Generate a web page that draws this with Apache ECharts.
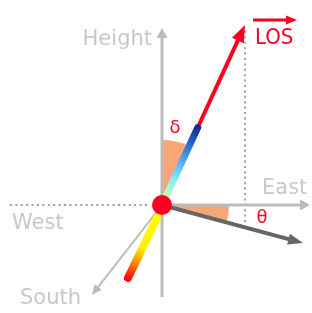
<!DOCTYPE html>
<html>
<head>
<meta charset="utf-8">
<script src="https://cdn.jsdelivr.net/npm/echarts@6/dist/echarts.min.js"></script>
<style>
html, body { margin: 0; padding: 0; background: #fff; }
#main { width: 312px; height: 313px; }
</style>
</head>
<body>
<div id="main"></div>
<script>
// geometry in pixel-like units, origin = target point, y up
var axisVecs = [            // gray reference axes [from, to]
  [[0, -92], [0, 177]],     // Height
  [[0, 0], [148, 0]],       // East
  [[0, 0], [-70, -90]]      // South
];
var dottedLines = [
  [[-152, 0], [-12, 0]],    // West
  [[83, -17], [83, 175]]    // LOS projection
];
var losVec = [83, 180];
var headingVec = [141, -38];
var losBlueSeg = [[3.5, 7.6], [35.7, 77.4]];
var footSeg = [[-5, -13], [-34, -73]];
var deltaR = 65, thetaR = 67;
var labelNames = ['Height', 'East', 'West', 'South'];
var labelPos = [[-10, 165], [100, 16], [-150, -19], [-142, -94]];
var labelAlign = ['right', 'left', 'left', 'left'];
var greekNames = ['δ', 'θ'];
var greekPos = [[13, 77], [100, -13]];
var losLabelPos = [93, 167];
var losBar = [[91, 185], [135, 185]];

var RED = '#fa0022';
var ORANGE = '#f8a677';

function arrow(a, b, color, width, headLen, headW) {
  var dx = b[0] - a[0], dy = b[1] - a[1];
  var len = Math.sqrt(dx * dx + dy * dy);
  var ux = dx / len, uy = dy / len;
  var base = [b[0] - ux * headLen, b[1] - uy * headLen];
  return [
    { type: 'line', shape: { x1: a[0], y1: a[1], x2: base[0] + ux * 2, y2: base[1] + uy * 2 },
      style: { stroke: color, lineWidth: width } },
    { type: 'polygon', shape: { points: [b,
        [base[0] - uy * headW / 2, base[1] + ux * headW / 2],
        [base[0] + uy * headW / 2, base[1] - ux * headW / 2]] },
      style: { fill: color } }
  ];
}

function gradLine(a, b, stops, width) {
  return {
    type: 'line', shape: { x1: a[0], y1: a[1], x2: b[0], y2: b[1] },
    style: {
      lineWidth: width, lineCap: 'round',
      stroke: new echarts.graphic.LinearGradient(a[0], a[1], b[0], b[1], stops, true)
    }
  };
}

function renderAll(params, api) {
  var o = api.coord([0, 0]);
  var kids = [];
  var losAng = Math.atan2(-losVec[1], losVec[0]);
  var headAng = Math.atan2(headingVec[1], headingVec[0]);
  // angle wedges
  kids.push({ type: 'sector', shape: { cx: o[0], cy: o[1], r0: 0, r: api.size([deltaR, 0])[0],
    startAngle: -Math.PI / 2, endAngle: losAng, clockwise: true }, style: { fill: ORANGE } });
  kids.push({ type: 'sector', shape: { cx: o[0], cy: o[1], r0: 0, r: api.size([thetaR, 0])[0],
    startAngle: 0, endAngle: -headAng, clockwise: true }, style: { fill: ORANGE } });
  // dotted guides
  dottedLines.forEach(function (d) {
    var a = api.coord(d[0]), b = api.coord(d[1]);
    kids.push({ type: 'line', shape: { x1: a[0], y1: a[1], x2: b[0], y2: b[1] },
      style: { stroke: '#a0a0a0', lineWidth: 2, lineDash: [2, 3.4] } });
  });
  // gray axes
  axisVecs.forEach(function (v, i) {
    var a = api.coord(v[0]), b = api.coord(v[1]);
    kids = kids.concat(arrow(a, b, '#bcbcbc', i == 2 ? 2 : 3, 10, i == 2 ? 9 : 11));
  });
  // heading vector
  kids = kids.concat(arrow(o, api.coord(headingVec), '#666666', 4, 15, 11));
  // LOS vector
  kids = kids.concat(arrow(o, api.coord(losVec), RED, 4, 17, 13));
  // coloured segments
  kids.push(gradLine(api.coord(losBlueSeg[0]), api.coord(losBlueSeg[1]), [
    { offset: 0, color: '#d8f8a0' }, { offset: 0.25, color: '#80f0f8' },
    { offset: 0.5, color: '#58b0f0' }, { offset: 0.8, color: '#2060c8' },
    { offset: 1, color: '#102c90' }], 7));
  kids.push(gradLine(api.coord(footSeg[0]), api.coord(footSeg[1]), [
    { offset: 0, color: '#ffff00' }, { offset: 0.5, color: '#ffee00' },
    { offset: 0.75, color: '#ff8800' }, { offset: 1, color: '#ff0a10' }], 8));
  // target point
  kids.push({ type: 'circle', shape: { cx: o[0], cy: o[1], r: 10 }, style: { fill: RED } });
  // labels
  labelNames.forEach(function (t, i) {
    var p = api.coord(labelPos[i]);
    kids.push({ type: 'text', x: p[0], y: p[1], style: { text: t, fill: '#c8c8c8',
      font: '21px "DejaVu Sans"', align: labelAlign[i], verticalAlign: 'middle' } });
  });
  greekNames.forEach(function (t, i) {
    var p = api.coord(greekPos[i]);
    kids.push({ type: 'text', x: p[0], y: p[1], style: { text: t, fill: RED,
      font: '18px "DejaVu Sans"', align: 'center', verticalAlign: 'middle' } });
  });
  var lp = api.coord(losLabelPos);
  kids.push({ type: 'text', x: lp[0], y: lp[1], style: { text: 'LOS', fill: RED,
    font: '22px "DejaVu Sans Condensed"', align: 'left', verticalAlign: 'middle' } });
  kids = kids.concat(arrow(api.coord(losBar[0]), api.coord(losBar[1]), RED, 3, 11, 9));
  return { type: 'group', children: kids };
}

var chart = echarts.init(document.getElementById('main'));
chart.setOption({
  animation: false,
  grid: { left: 0, right: 0, top: 0, bottom: 0 },
  xAxis: { type: 'value', min: -162, max: 150, show: false },
  yAxis: { type: 'value', min: -108, max: 205, show: false },
  series: [{
    type: 'custom',
    coordinateSystem: 'cartesian2d',
    clip: false,
    data: [[0, 0]],
    renderItem: renderAll
  }]
});
</script>
</body>
</html>
